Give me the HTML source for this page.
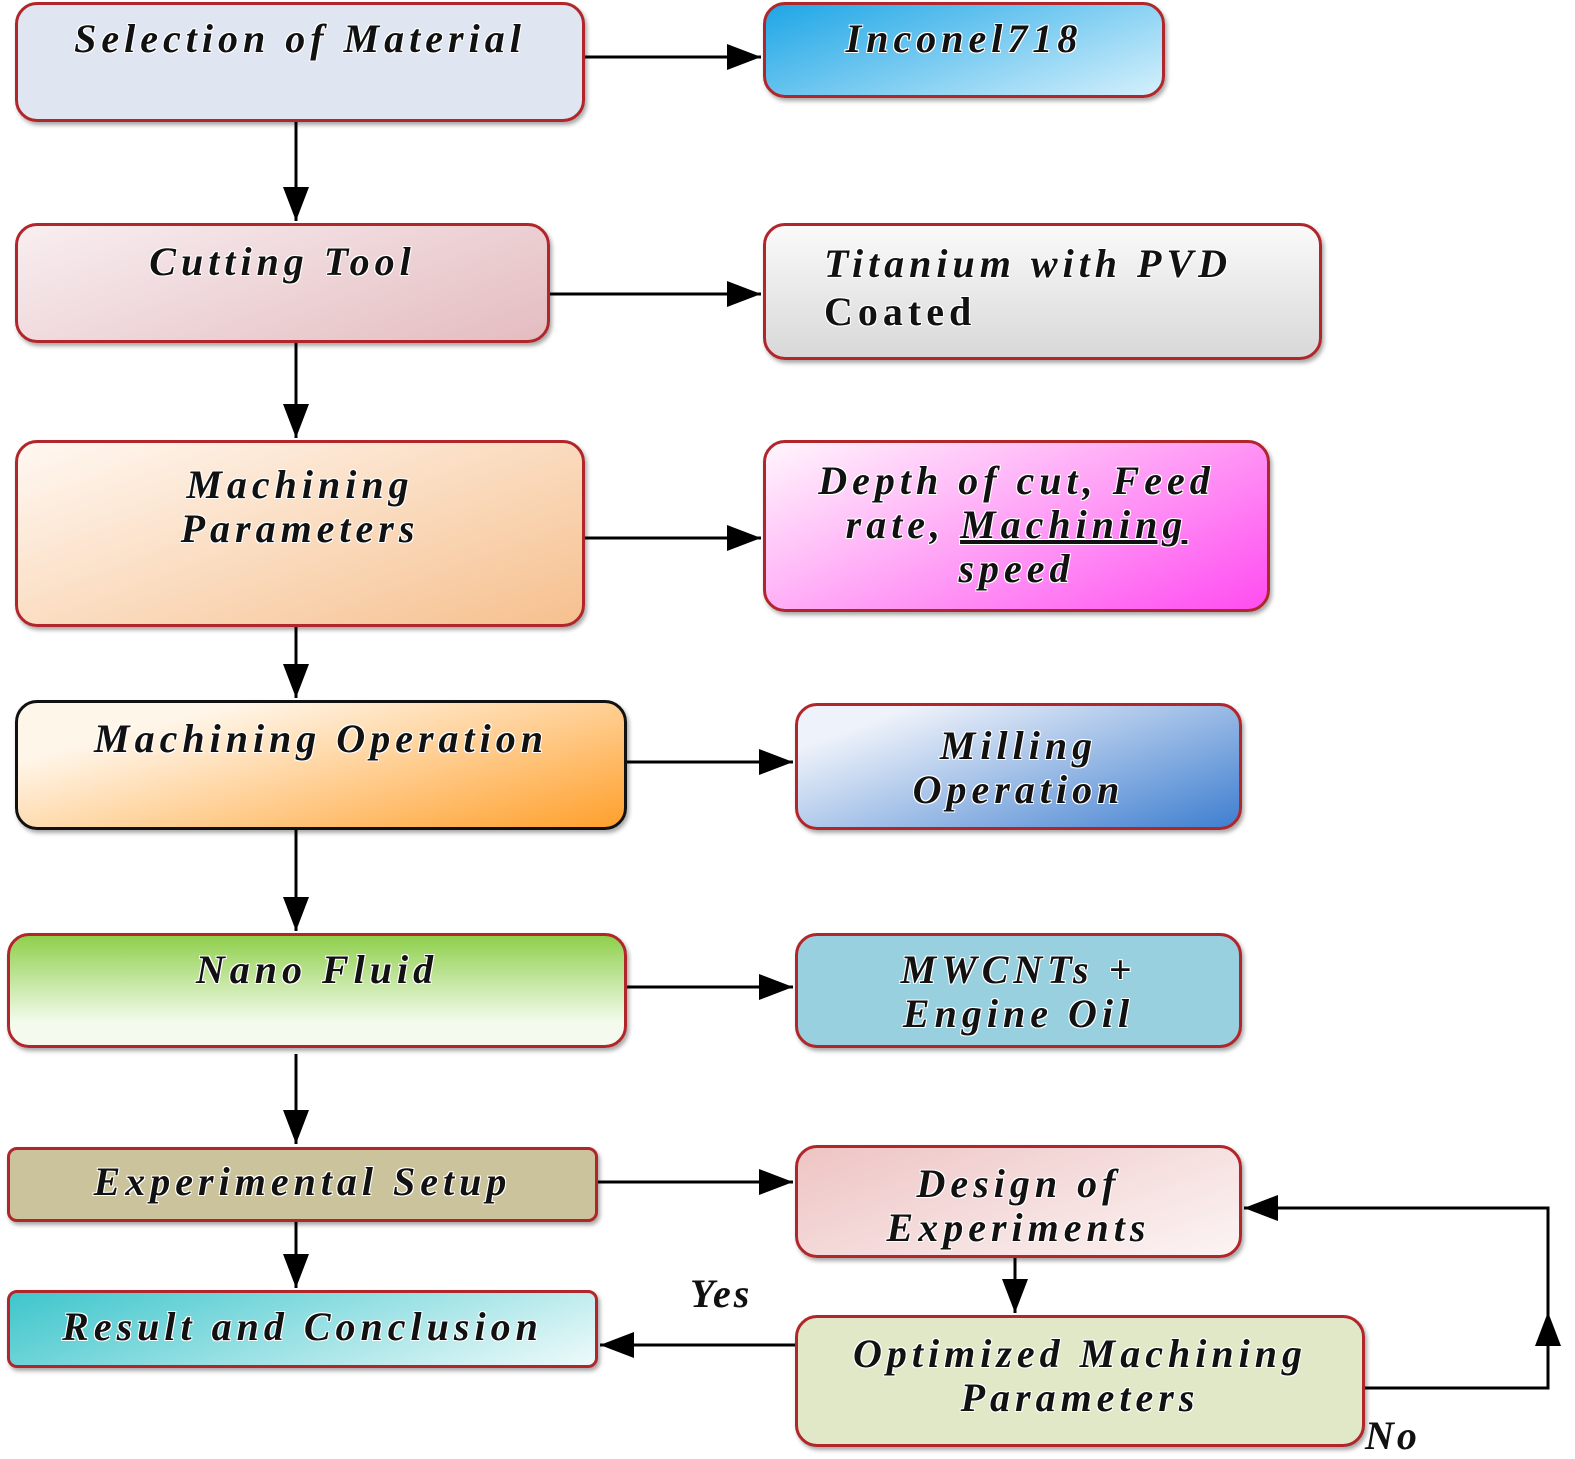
<!DOCTYPE html>
<html><head><meta charset="utf-8"><style>
html,body{margin:0;padding:0;background:#fff;}
body{width:1575px;height:1459px;position:relative;overflow:hidden;font-family:"Liberation Serif",serif;}
.b{position:absolute;box-sizing:border-box;border:3px solid #b0262a;border-radius:22px;box-shadow:2px 3px 4px rgba(0,0,0,0.35);
 font-weight:bold;font-style:italic;font-size:40px;line-height:44px;text-align:center;color:#111;white-space:nowrap;
 text-shadow:1px 1px 0 #fff,-1px -1px 0 #fff,1px -1px 0 #fff,-1px 1px 0 #fff;letter-spacing:5px;}
.t{position:absolute;font-weight:bold;font-style:italic;font-size:40px;letter-spacing:3px;color:#111;}
</style></head><body>
<div class="b" style="left:15px;top:2px;width:570px;height:120px;background:#dfe6f1;padding-top:12px;">Selection of Material</div>
<div class="b" style="left:15px;top:223px;width:535px;height:120px;background:linear-gradient(160deg,#f8eef0,#e4bcc0);padding-top:14px;">Cutting Tool</div>
<div class="b" style="left:15px;top:440px;width:570px;height:187px;background:linear-gradient(160deg,#fff8f2,#f6c08e);padding-top:20px;">Machining<br>Parameters</div>
<div class="b" style="left:15px;top:700px;width:612px;height:130px;border-color:#111;background:linear-gradient(165deg,#fff6ea 20%,#ffa02c);padding-top:14px;">Machining Operation</div>
<div class="b" style="left:7px;top:933px;width:620px;height:115px;background:linear-gradient(180deg,#8fd04c,#f4fbee 80%);padding-top:12px;">Nano Fluid</div>
<div class="b" style="left:7px;top:1147px;width:591px;height:75px;border-radius:10px;background:#cbc39c;padding-top:10px;">Experimental Setup</div>
<div class="b" style="left:7px;top:1290px;width:591px;height:78px;border-radius:10px;background:linear-gradient(160deg,#3ec6cc,#eefafa);padding-top:12px;">Result and Conclusion</div>

<div class="b" style="left:763px;top:2px;width:402px;height:96px;background:linear-gradient(160deg,#1ea6e6,#d4f0fc);padding-top:12px;">Inconel718</div>
<div class="b" style="left:763px;top:223px;width:559px;height:137px;background:linear-gradient(180deg,#fafafa,#d8d8d8);text-align:left;padding:14px 0 0 58px;line-height:48px;">Titanium with PVD<br><span style="font-style:normal">Coated</span></div>
<div class="b" style="left:763px;top:440px;width:507px;height:172px;background:linear-gradient(155deg,#fff6fc,#ff4cf0);padding-top:16px;">Depth of cut, Feed<br>rate, <u>Machining</u><br>speed</div>
<div class="b" style="left:795px;top:703px;width:447px;height:127px;background:linear-gradient(160deg,#eef2fa 15%,#3f7fd0);padding-top:18px;">Milling<br>Operation</div>
<div class="b" style="left:795px;top:933px;width:447px;height:115px;background:#98d0df;padding-top:12px;">MWCNTs +<br>Engine Oil</div>
<div class="b" style="left:795px;top:1145px;width:447px;height:113px;background:linear-gradient(160deg,#eec4c4,#fcf4f4);padding-top:14px;">Design of<br>Experiments</div>
<div class="b" style="left:795px;top:1315px;width:570px;height:132px;background:#e0e8c8;padding-top:14px;">Optimized Machining<br>Parameters</div>

<div class="t" style="left:690px;top:1270px;">Yes</div>
<div class="t" style="left:1365px;top:1412px;">No</div>

<svg width="1575" height="1459" style="position:absolute;left:0;top:0" xmlns="http://www.w3.org/2000/svg">
<defs>
<marker id="m" markerWidth="34" markerHeight="26" refX="34" refY="13" orient="auto" markerUnits="userSpaceOnUse"><path d="M0,0 L34,13 L0,26 z" fill="#000"/></marker></defs>
<g stroke="#000" stroke-width="3" fill="none">
<line x1="296" y1="122" x2="296" y2="221" marker-end="url(#m)"/>
<line x1="296" y1="343" x2="296" y2="438" marker-end="url(#m)"/>
<line x1="296" y1="627" x2="296" y2="698" marker-end="url(#m)"/>
<line x1="296" y1="830" x2="296" y2="931" marker-end="url(#m)"/>
<line x1="296" y1="1054" x2="296" y2="1144" marker-end="url(#m)"/>
<line x1="296" y1="1222" x2="296" y2="1288" marker-end="url(#m)"/>
<line x1="585" y1="57" x2="761" y2="57" marker-end="url(#m)"/>
<line x1="550" y1="294" x2="761" y2="294" marker-end="url(#m)"/>
<line x1="585" y1="538" x2="761" y2="538" marker-end="url(#m)"/>
<line x1="627" y1="762" x2="793" y2="762" marker-end="url(#m)"/>
<line x1="627" y1="987" x2="793" y2="987" marker-end="url(#m)"/>
<line x1="598" y1="1182" x2="793" y2="1182" marker-end="url(#m)"/>
<line x1="1015" y1="1258" x2="1015" y2="1313" marker-end="url(#m)"/>
<line x1="795" y1="1345" x2="600" y2="1345" marker-end="url(#m)"/>
<polyline points="1365,1388 1548,1388 1548,1315"/>
<line x1="1548" y1="1345" x2="1548" y2="1312" marker-end="url(#m)"/>
<polyline points="1548,1315 1548,1208 1280,1208"/>
<line x1="1290" y1="1208" x2="1244" y2="1208" marker-end="url(#m)"/>
</g></svg>
</body></html>
